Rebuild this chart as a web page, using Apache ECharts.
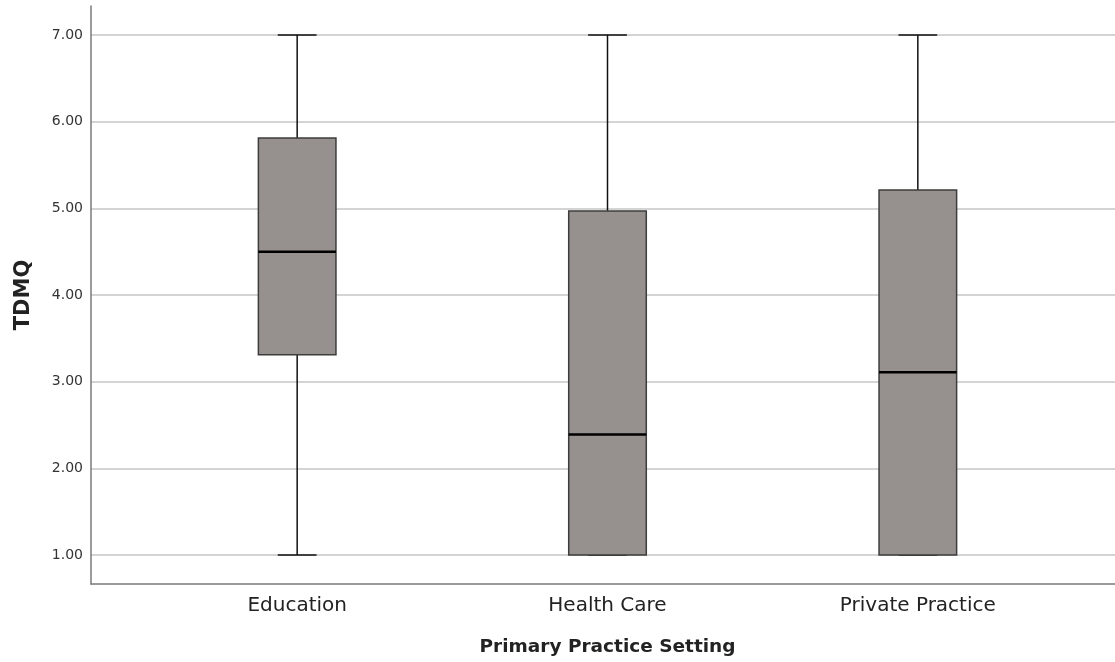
<!DOCTYPE html>
<html>
<head>
<meta charset="utf-8">
<style>
  html, body { margin: 0; padding: 0; background: #fff; }
  #chart { width: 1115px; height: 662px; }
</style>
<script src="https://cdn.jsdelivr.net/npm/echarts@6/dist/echarts.min.js"></script>
</head>
<body>
<div id="chart"></div>
<script>
// TDMQ scores by primary practice setting (five-number summaries)
const categories = ['Education', 'Health Care', 'Private Practice'];
const whiskerLow = [1.00, 1.00, 1.00];
const lowerQuartile = [3.31, 1.00, 1.00];
const medians = [4.50, 2.39, 3.11];
const upperQuartile = [5.81, 4.97, 5.21];
const whiskerHigh = [7.00, 7.00, 7.00];
const yTickValues = [1, 2, 3, 4, 5, 6, 7];

const boxData = categories.map((c, i) => [
  i, whiskerLow[i], lowerQuartile[i], medians[i], upperQuartile[i], whiskerHigh[i]
]);

const yMin = yTickValues[0];
const yMax = yTickValues[yTickValues.length - 1];
const pad = 1 / 3;

function renderBox(params, api) {
  const i = api.value(0);
  const band = api.size([1, 0])[0];
  const w = band * 0.25;
  const cx = api.coord([i, 0])[0];
  const y = (dim) => api.coord([i, api.value(dim)])[1];
  const yLo = y(1), yQ1 = y(2), yMed = y(3), yQ3 = y(4), yHi = y(5);
  const whisker = { stroke: '#111', lineWidth: 1.5 };
  return {
    type: 'group',
    children: [
      { type: 'line', shape: { x1: cx, y1: yHi, x2: cx, y2: yQ3 }, style: whisker },
      { type: 'line', shape: { x1: cx, y1: yQ1, x2: cx, y2: yLo }, style: whisker },
      { type: 'line', shape: { x1: cx - w / 4, y1: yHi, x2: cx + w / 4, y2: yHi }, style: whisker },
      { type: 'line', shape: { x1: cx - w / 4, y1: yLo, x2: cx + w / 4, y2: yLo }, style: whisker },
      {
        type: 'rect',
        shape: { x: cx - w / 2, y: yQ3, width: w, height: yQ1 - yQ3 },
        style: { fill: '#96918f', stroke: '#3d3d3d', lineWidth: 1.5 }
      },
      { type: 'line', shape: { x1: cx - w / 2, y1: yMed, x2: cx + w / 2, y2: yMed }, style: { stroke: '#000', lineWidth: 2.5 } }
    ]
  };
}

const chart = echarts.init(document.getElementById('chart'), null, { renderer: 'canvas' });

chart.setOption({
  animation: false,
  backgroundColor: '#ffffff',
  grid: [
    // frame: axis lines only
    { left: 91, right: 0, top: 6, bottom: 78, containLabel: false },
    // tick labels and gridlines
    { left: 91, right: 0, top: 35, bottom: 107, containLabel: false },
    // boxes and category labels
    { left: 142, right: 42, top: 6, bottom: 78, containLabel: false }
  ],
  xAxis: [
    {
      gridIndex: 0, type: 'value', min: 0, max: 1,
      axisLine: { show: true, lineStyle: { color: '#7a7a7a', width: 1.5 } },
      axisTick: { show: false }, axisLabel: { show: false }, splitLine: { show: false }
    },
    {
      gridIndex: 1, type: 'value', min: 0, max: 1, show: false
    },
    {
      gridIndex: 2, type: 'category', data: categories,
      axisLine: { show: false }, axisTick: { show: false }, splitLine: { show: false },
      axisLabel: { margin: 12, fontSize: 20, color: '#222', fontFamily: 'DejaVu Sans' },
      name: 'Primary Practice Setting', nameLocation: 'middle', nameGap: 54,
      nameTextStyle: { fontSize: 18.5, fontWeight: 'bold', color: '#222', fontFamily: 'DejaVu Sans' }
    }
  ],
  yAxis: [
    {
      gridIndex: 0, type: 'value', min: yMin - pad, max: yMax + pad,
      axisLine: { show: true, lineStyle: { color: '#7a7a7a', width: 1.5 } },
      axisTick: { show: false }, axisLabel: { show: false }, splitLine: { show: false },
      name: 'TDMQ', nameLocation: 'middle', nameGap: 57,
      nameTextStyle: { fontSize: 21, fontWeight: 'bold', color: '#222', fontFamily: 'DejaVu Sans' }
    },
    {
      gridIndex: 1, type: 'value', min: yMin, max: yMax, interval: 1,
      axisLine: { show: false }, axisTick: { show: false },
      axisLabel: {
        margin: 8, fontSize: 14, color: '#333', fontFamily: 'DejaVu Sans',
        formatter: (v) => v.toFixed(2)
      },
      splitLine: { show: true, lineStyle: { color: '#c6c6c6', width: 1.5 } }
    },
    {
      gridIndex: 2, type: 'value', min: yMin - pad, max: yMax + pad, show: false
    }
  ],
  series: [
    {
      type: 'custom',
      xAxisIndex: 2,
      yAxisIndex: 2,
      renderItem: renderBox,
      encode: { x: 0, y: [1, 2, 3, 4, 5] },
      data: boxData,
      z: 3
    }
  ]
});
</script>
</body>
</html>
